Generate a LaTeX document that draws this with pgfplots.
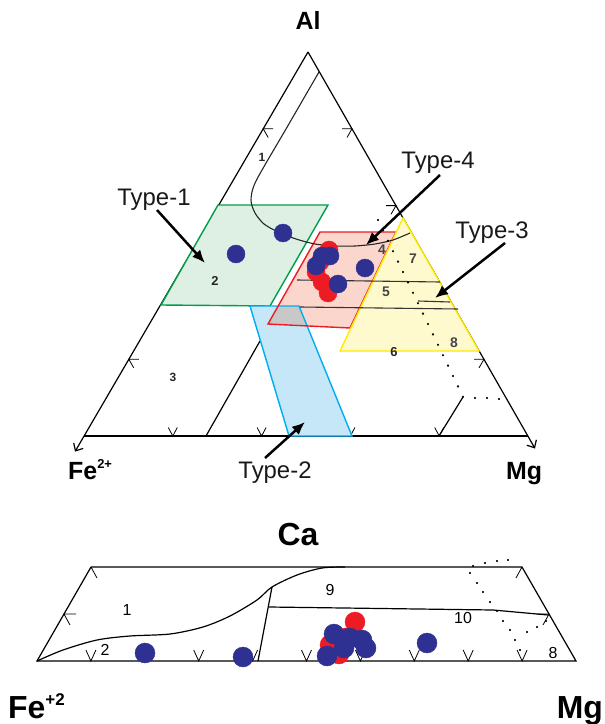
\documentclass[border=0pt]{standalone}
\usepackage{fontspec}
\setmainfont{Liberation Sans}
\usepackage{pgfplots}
\pgfplotsset{compat=1.18}
\usetikzlibrary{arrows.meta}
\definecolor{gfill}{RGB}{222,240,228}
\definecolor{gedge}{RGB}{0,158,75}
\definecolor{rfill}{RGB}{250,214,204}
\definecolor{redge}{RGB}{237,28,36}
\definecolor{yfill}{RGB}{255,250,206}
\definecolor{yedge}{RGB}{255,234,0}
\definecolor{bfill}{RGB}{197,231,247}
\definecolor{bedge}{RGB}{0,174,239}
\definecolor{grfill}{RGB}{200,200,200}
\definecolor{dotblue}{RGB}{46,49,146}
\definecolor{dotred}{RGB}{237,28,36}
\definecolor{lab}{RGB}{70,70,70}
\begin{document}
\begin{tikzpicture}
\begin{axis}[at={(0,0)}, anchor=south west, width=605bp, height=724bp, scale only axis,
  xmin=0, xmax=605, ymin=0, ymax=724, y dir=reverse, hide axis, clip=false,
  unbounded coords=jump]
% ---------- main triangle outline ----------
\addplot[black, line width=1.2bp, -{Straight Barb[length=6bp,width=11bp]}] coordinates {(308,52) (75,451.6)};
\addplot[black, line width=1.2bp, -{Straight Barb[length=6bp,width=11bp]}] coordinates {(308,52) (535,448.5)};
\addplot[black, line width=1.2bp] coordinates {(84,436) (528,436)};
% ticks main
\addplot[black, line width=0.8bp] coordinates {
 (168.3,427.5)(172.8,436)(177.3,427.5) (0,nan)
 (257.1,427.5)(261.6,436)(266.1,427.5) (0,nan)
 (345.9,427.5)(350.4,436)(354.9,427.5) (0,nan)
 (434.7,427.5)(439.2,436)(443.7,427.5) (0,nan)
 (138.8,359.2)(128.8,359.2)(133.8,367.9) (0,nan)
 (183.6,282.4)(173.6,282.4)(178.6,291.1) (0,nan)
 (228.4,205.6)(218.4,205.6)(223.4,214.3) (0,nan)
 (273.2,128.8)(263.2,128.8)(268.2,137.5) (0,nan)
 (474,359.2)(484,359.2)(479,367.9) (0,nan)
 (430,282.4)(440,282.4)(435,291.1) (0,nan)
 (386,205.6)(396,205.6)(391,214.3) (0,nan)
 (342,128.8)(352,128.8)(347,137.5)
};
% inner lines
\addplot[black, line width=1.2bp] coordinates {(206,436) (260,341)};
\addplot[black, line width=1.2bp] coordinates {(463,397) (439,436)};
% ---------- fields ----------
\addplot[fill=gfill, draw=gedge, line width=1.4bp] coordinates {(218,205) (328,205) (270,306) (161,305)} -- cycle;
\addplot[fill=rfill, draw=none] coordinates {(320,232) (396,232) (350,328) (268,324)} -- cycle;
\addplot[fill=bfill, draw=none] coordinates {(250,306) (299,306) (352,436) (289,436)} -- cycle;
\addplot[fill=grfill, draw=none] coordinates {(278,306) (299,306) (306.5,325) (268,324)} -- cycle;
\addplot[draw=bedge, line width=1.4bp] coordinates {(250,306) (299,306) (352,436) (289,436)} -- cycle;
\addplot[draw=redge, line width=1.4bp] coordinates {(320,232) (396,232) (350,328) (268,324)} -- cycle;
\addplot[fill=yfill, draw=yedge, line width=1.4bp] coordinates {(403,218) (479,351) (340,351)} -- cycle;
% lines on top
\addplot[black!80, line width=1.1bp] coordinates {(297,280) (440,282)};
\addplot[black!80, line width=1.1bp] coordinates {(300,307) (458,309)};
\addplot[black!80, line width=1.1bp] coordinates {(418,301) (450,302)};
\addplot[black!85, line width=1.1bp, smooth, tension=0.45] coordinates {(319,72) (286,129) (256,181) (251,200) (255,213) (264,224) (278,232) (296,239) (315,244) (335,246) (355,246) (375,244) (393,240) (410,233)};
% dotted
\addplot[only marks, mark=*, mark size=0.9bp, black] coordinates {
 (378,220)(383,230.4)(388,240.8)(393,251.2)(398,261.6)(403,272)(408,282.4)(413,292.8)(418,303.2)
 (423,313.6)(428,324)(433,334.4)(438,344.8)(443,355.2)(448,365.6)(453,376)(458,386.4)(463,396.8)
 (475,398)(487,398)(499,399)};
% field numbers
\node[font=\bfseries\fontsize{12}{12}\selectfont, text=black!85] at (axis cs:262,157) {1};
\node[font=\bfseries\fontsize{13}{13}\selectfont, text=black!85] at (axis cs:215,281) {2};
\node[font=\bfseries\fontsize{12}{12}\selectfont, text=black!85] at (axis cs:173,377) {3};
\node[font=\bfseries\fontsize{14}{14}\selectfont, text=lab] at (axis cs:382,250) {4};
\node[font=\bfseries\fontsize{14}{14}\selectfont, text=lab] at (axis cs:386,292) {5};
\node[font=\bfseries\fontsize{13}{13}\selectfont, text=black!85] at (axis cs:394,352) {6};
\node[font=\bfseries\fontsize{14}{14}\selectfont, text=lab] at (axis cs:413,259) {7};
\node[font=\bfseries\fontsize{14}{14}\selectfont, text=lab] at (axis cs:454,343) {8};
% dots main
\addplot[only marks, mark=*, mark size=9bp, draw=dotred, fill=dotred] coordinates {(329,250) (316,272) (322,282) (328,293) (320,262)};
\addplot[only marks, mark=*, mark size=9bp, draw=dotblue, fill=dotblue] coordinates {(322,256) (330,256) (316,266) (338,284) (365,268) (283,233) (236,254)};
% arrows
\addplot[black, line width=2.5bp, -{Latex[length=13bp,width=11bp]}] coordinates {(157,210) (205,263)};
\addplot[black, line width=2.5bp, -{Latex[length=13bp,width=11bp]}] coordinates {(440,175) (366,245)};
\addplot[black, line width=2.5bp, -{Latex[length=13bp,width=11bp]}] coordinates {(505,243) (435,298)};
\addplot[black, line width=2.5bp, -{Latex[length=13bp,width=11bp]}] coordinates {(265,458) (305,422)};
% labels main
\node[font=\fontsize{24}{24}\selectfont, anchor=base, text=black!90] at (axis cs:154,205) {Type-1};
\node[font=\fontsize{24}{24}\selectfont, anchor=base, text=black!90] at (axis cs:438,168) {Type-4};
\node[font=\fontsize{24}{24}\selectfont, anchor=base, text=black!90] at (axis cs:492,238) {Type-3};
\node[font=\fontsize{24}{24}\selectfont, anchor=base, text=black!90] at (axis cs:275,478) {Type-2};
\node[font=\bfseries\fontsize{25}{25}\selectfont, anchor=base] at (axis cs:308,30) {Al};
\node[font=\bfseries\fontsize{25}{25}\selectfont, anchor=base west, inner sep=0pt] at (axis cs:68,479) {Fe\raisebox{11bp}{\fontsize{13}{13}\selectfont 2+}};
\node[font=\bfseries\fontsize{25}{25}\selectfont, anchor=base] at (axis cs:524,479) {Mg};
% ---------- bottom trapezoid ----------
\addplot[black, line width=1.2bp] coordinates {(91,567) (522,567) (576,661) (37,661) (91,567)};
\addplot[black, line width=0.8bp] coordinates {
 (85.9,650)(90.9,661)(95.9,650) (0,nan)
 (139.8,650)(144.8,661)(149.8,650) (0,nan)
 (193.7,650)(198.7,661)(203.7,650) (0,nan)
 (247.6,650)(252.6,661)(257.6,650) (0,nan)
 (301.5,650)(306.5,661)(311.5,650) (0,nan)
 (355.4,650)(360.4,661)(365.4,650) (0,nan)
 (409.3,650)(414.3,661)(419.3,650) (0,nan)
 (463.2,650)(468.2,661)(473.2,650) (0,nan)
 (517.1,650)(522.1,661)(527.1,650) (0,nan)
 (76,614)(64,614)(70,625) (0,nan)
 (91,567)(97,578) (0,nan)
 (537,614)(549,614)(543,625) (0,nan)
 (522,567)(516,578)
};
\addplot[black, line width=1.2bp, smooth, tension=0.5] coordinates {(37,661) (63,650) (97,640) (130,636) (170,634) (203,627) (230,616) (257,600) (272,587) (297,575) (322,568) (345,567)};
\addplot[black, line width=1.2bp] coordinates {(272,587) (258,661)};
\addplot[black, line width=1.2bp] coordinates {(269,607) (493,610) (548,615)};
\addplot[only marks, mark=*, mark size=0.9bp, black] coordinates {
 (508,560)(497,561)(485,563)(473,566)(470,573)(477,583)(483,592)(490,602)(497,611)(503,621)(510,630)(515,640)(520,650)
 (527,632)(537,627)(546,621)};
\node[font=\fontsize{16}{16}\selectfont] at (axis cs:127,610) {1};
\node[font=\fontsize{16}{16}\selectfont] at (axis cs:105,650) {2};
\node[font=\fontsize{16}{16}\selectfont] at (axis cs:330,590) {9};
\node[font=\fontsize{16}{16}\selectfont] at (axis cs:463,618) {10};
\node[font=\fontsize{16}{16}\selectfont] at (axis cs:553,653) {8};
\addplot[only marks, mark=*, mark size=10bp, draw=dotred, fill=dotred] coordinates {(355,622) (330,645) (339,654) (345,638)};
\addplot[only marks, mark=*, mark size=10bp, draw=dotblue, fill=dotblue] coordinates {(334,634) (350,638) (362,640) (366,648) (344,648) (327,656) (427,643) (243,657) (145,653)};
\node[font=\bfseries\fontsize{32}{32}\selectfont, anchor=base] at (axis cs:298,545) {Ca};
\node[font=\bfseries\fontsize{32}{32}\selectfont, anchor=base west, inner sep=0pt] at (axis cs:8,718) {Fe\raisebox{13bp}{\fontsize{17}{17}\selectfont +2}};
\node[font=\bfseries\fontsize{32}{32}\selectfont, anchor=base east, inner sep=0pt] at (axis cs:603,718) {Mg};
\end{axis}
\pgfresetboundingbox
\path (0,0) rectangle (605bp,724bp);
\end{tikzpicture}
\end{document}
